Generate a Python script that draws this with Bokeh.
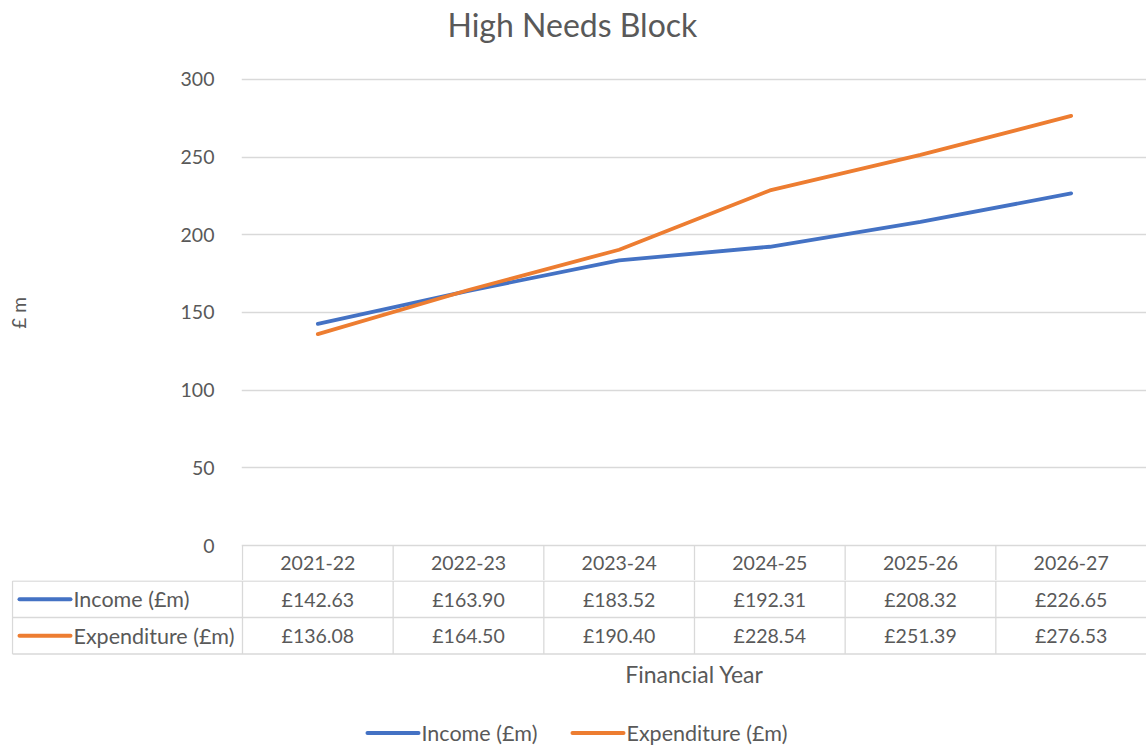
from bokeh.plotting import figure
from bokeh.models import Range1d, FixedTicker
from bokeh.layouts import column
from bokeh.core.properties import value
from bokeh.embed import file_html
from bokeh.resources import INLINE

# ---------------- data ----------------
categories = ["2021-22", "2022-23", "2023-24", "2024-25", "2025-26", "2026-27"]
income = [142.63, 163.90, 183.52, 192.31, 208.32, 226.65]
expenditure = [136.08, 164.50, 190.40, 228.54, 251.39, 276.53]
series_names = ["Income (£m)", "Expenditure (£m)"]
series_colors = ["#4472C4", "#ED7D31"]
y_ticks = [0, 50, 100, 150, 200, 250, 300]
title_text = "High Needs Block"
y_label = "£ m"
x_label = "Financial Year"

FONT = value("Lato")
GREY = "#595959"
GRID = "#d9d9d9"

n = len(categories)
W = 1146
TOP_H = 580
BOT_H = 168
FRAME_L = 242
FRAME_T = 44                      # top of frame (title sits above it)
PLOT_T = 78                       # pixel row of the 300 gridline
PPU = (W - FRAME_L) / n           # pixels per category column
HEADER = 22.5                     # header row height in data units below zero
PPY = (TOP_H - PLOT_T) / (300 + HEADER)   # pixels per y unit
Y_TOP = 300 + (PLOT_T - FRAME_T) / PPY

xs = [i + 0.5 for i in range(n)]

# ---------------- top figure: title + chart + header row ----------------
top = figure(width=W, height=TOP_H, x_range=Range1d(-1 / PPU, n),
             y_range=Range1d(-HEADER, Y_TOP), output_backend="svg",
             toolbar_location=None, x_axis_location=None,
             min_border_left=FRAME_L - 1, min_border_right=0,
             min_border_top=FRAME_T, min_border_bottom=0,
             outline_line_color=None)
top.frame_align = False

top.title.text = title_text
top.title.align = "left"
top.title.offset = 206
top.title.standoff = 4
top.title.text_font = "Lato"
top.title.text_font_size = "32px"
top.title.text_font_style = "normal"
top.title.text_color = GREY

ax = top.yaxis[0]
ax.ticker = FixedTicker(ticks=y_ticks)
ax.axis_line_color = None
ax.major_tick_line_color = None
ax.minor_tick_line_color = None
ax.major_label_text_font = "Lato"
ax.major_label_text_font_size = "19.5px"
ax.major_label_text_color = GREY
ax.major_label_standoff = 21
ax.axis_label = y_label
ax.axis_label_text_font = "Lato"
ax.axis_label_text_font_size = "19px"
ax.axis_label_text_font_style = "normal"
ax.axis_label_text_color = GREY
ax.axis_label_standoff = 148

top.xgrid.visible = False
top.ygrid.ticker = FixedTicker(ticks=y_ticks)
top.ygrid.grid_line_color = GRID
top.ygrid.grid_line_width = 1.3

for vals, col in zip([income, expenditure], series_colors):
    top.line(xs, vals, line_color=col, line_width=3.8, line_cap="round",
             line_join="round")

# header row of data table
top.text(x=xs, y=[-HEADER / 2] * n, text=categories, text_align="center",
         text_baseline="middle", text_font=FONT, text_font_size="19.5px",
         text_color=GREY)
bounds = list(range(n))
top.segment(x0=bounds, y0=[0] * n, x1=bounds, y1=[-HEADER] * n,
            line_color=GRID, line_width=1.3)

# ---------------- bottom figure: table rows + axis title + legend ----------------
LABEL_COL = (FRAME_L - 12) / PPU
bot = figure(width=W, height=BOT_H, x_range=Range1d(-(FRAME_L - 11) / PPU, n),
             y_range=Range1d(-(BOT_H - 0.5), 0.5), output_backend="svg",
             toolbar_location=None, x_axis_location=None, y_axis_location=None,
             min_border_left=11, min_border_right=0, min_border_top=0,
             min_border_bottom=0, outline_line_color=None)
bot.frame_align = False
bot.xgrid.visible = False
bot.ygrid.visible = False

row_h = 36.5
row_lines = [0, -row_h, -2 * row_h]
bot.segment(x0=[-LABEL_COL] * 3, y0=row_lines, x1=[n] * 3, y1=row_lines,
            line_color=GRID, line_width=1.3)
vb = [-LABEL_COL] + bounds
bot.segment(x0=vb, y0=[0] * len(vb), x1=vb, y1=[-2 * row_h] * len(vb),
            line_color=GRID, line_width=1.3)

for r, (vals, name, col) in enumerate(zip([income, expenditure], series_names, series_colors)):
    yc = -(r + 0.5) * row_h
    bot.text(x=xs, y=[yc] * n, text=[f"£{v:.2f}" for v in vals],
             text_align="center", text_baseline="middle", text_font=FONT,
             text_font_size="19.5px", text_color=GREY)
    bot.segment(x0=[(19 - FRAME_L) / PPU], y0=[yc], x1=[(70 - FRAME_L) / PPU], y1=[yc],
                line_color=col, line_width=4, line_cap="round")
    bot.text(x=[(73 - FRAME_L) / PPU], y=[yc], text=[name], text_align="left",
             text_baseline="middle", text_font=FONT, text_font_size="21.5px",
             text_color=GREY)

bot.text(x=[n / 2], y=[-93], text=[x_label], text_align="center",
         text_baseline="middle", text_font=FONT, text_font_size="23px",
         text_color=GREY)

# legend
leg_y = -152
leg_line = [(367, 418, 421), (572, 623, 626)]
for (a, b, t), name, col in zip(leg_line, series_names, series_colors):
    bot.segment(x0=[(a - FRAME_L) / PPU], y0=[leg_y], x1=[(b - FRAME_L) / PPU], y1=[leg_y],
                line_color=col, line_width=4, line_cap="round")
    bot.text(x=[(t - FRAME_L) / PPU], y=[leg_y], text=[name], text_align="left",
             text_baseline="middle", text_font=FONT, text_font_size="21.5px",
             text_color=GREY)

layout = column(top, bot, spacing=0)
open("out.html", "w").write(file_html(layout, INLINE))
